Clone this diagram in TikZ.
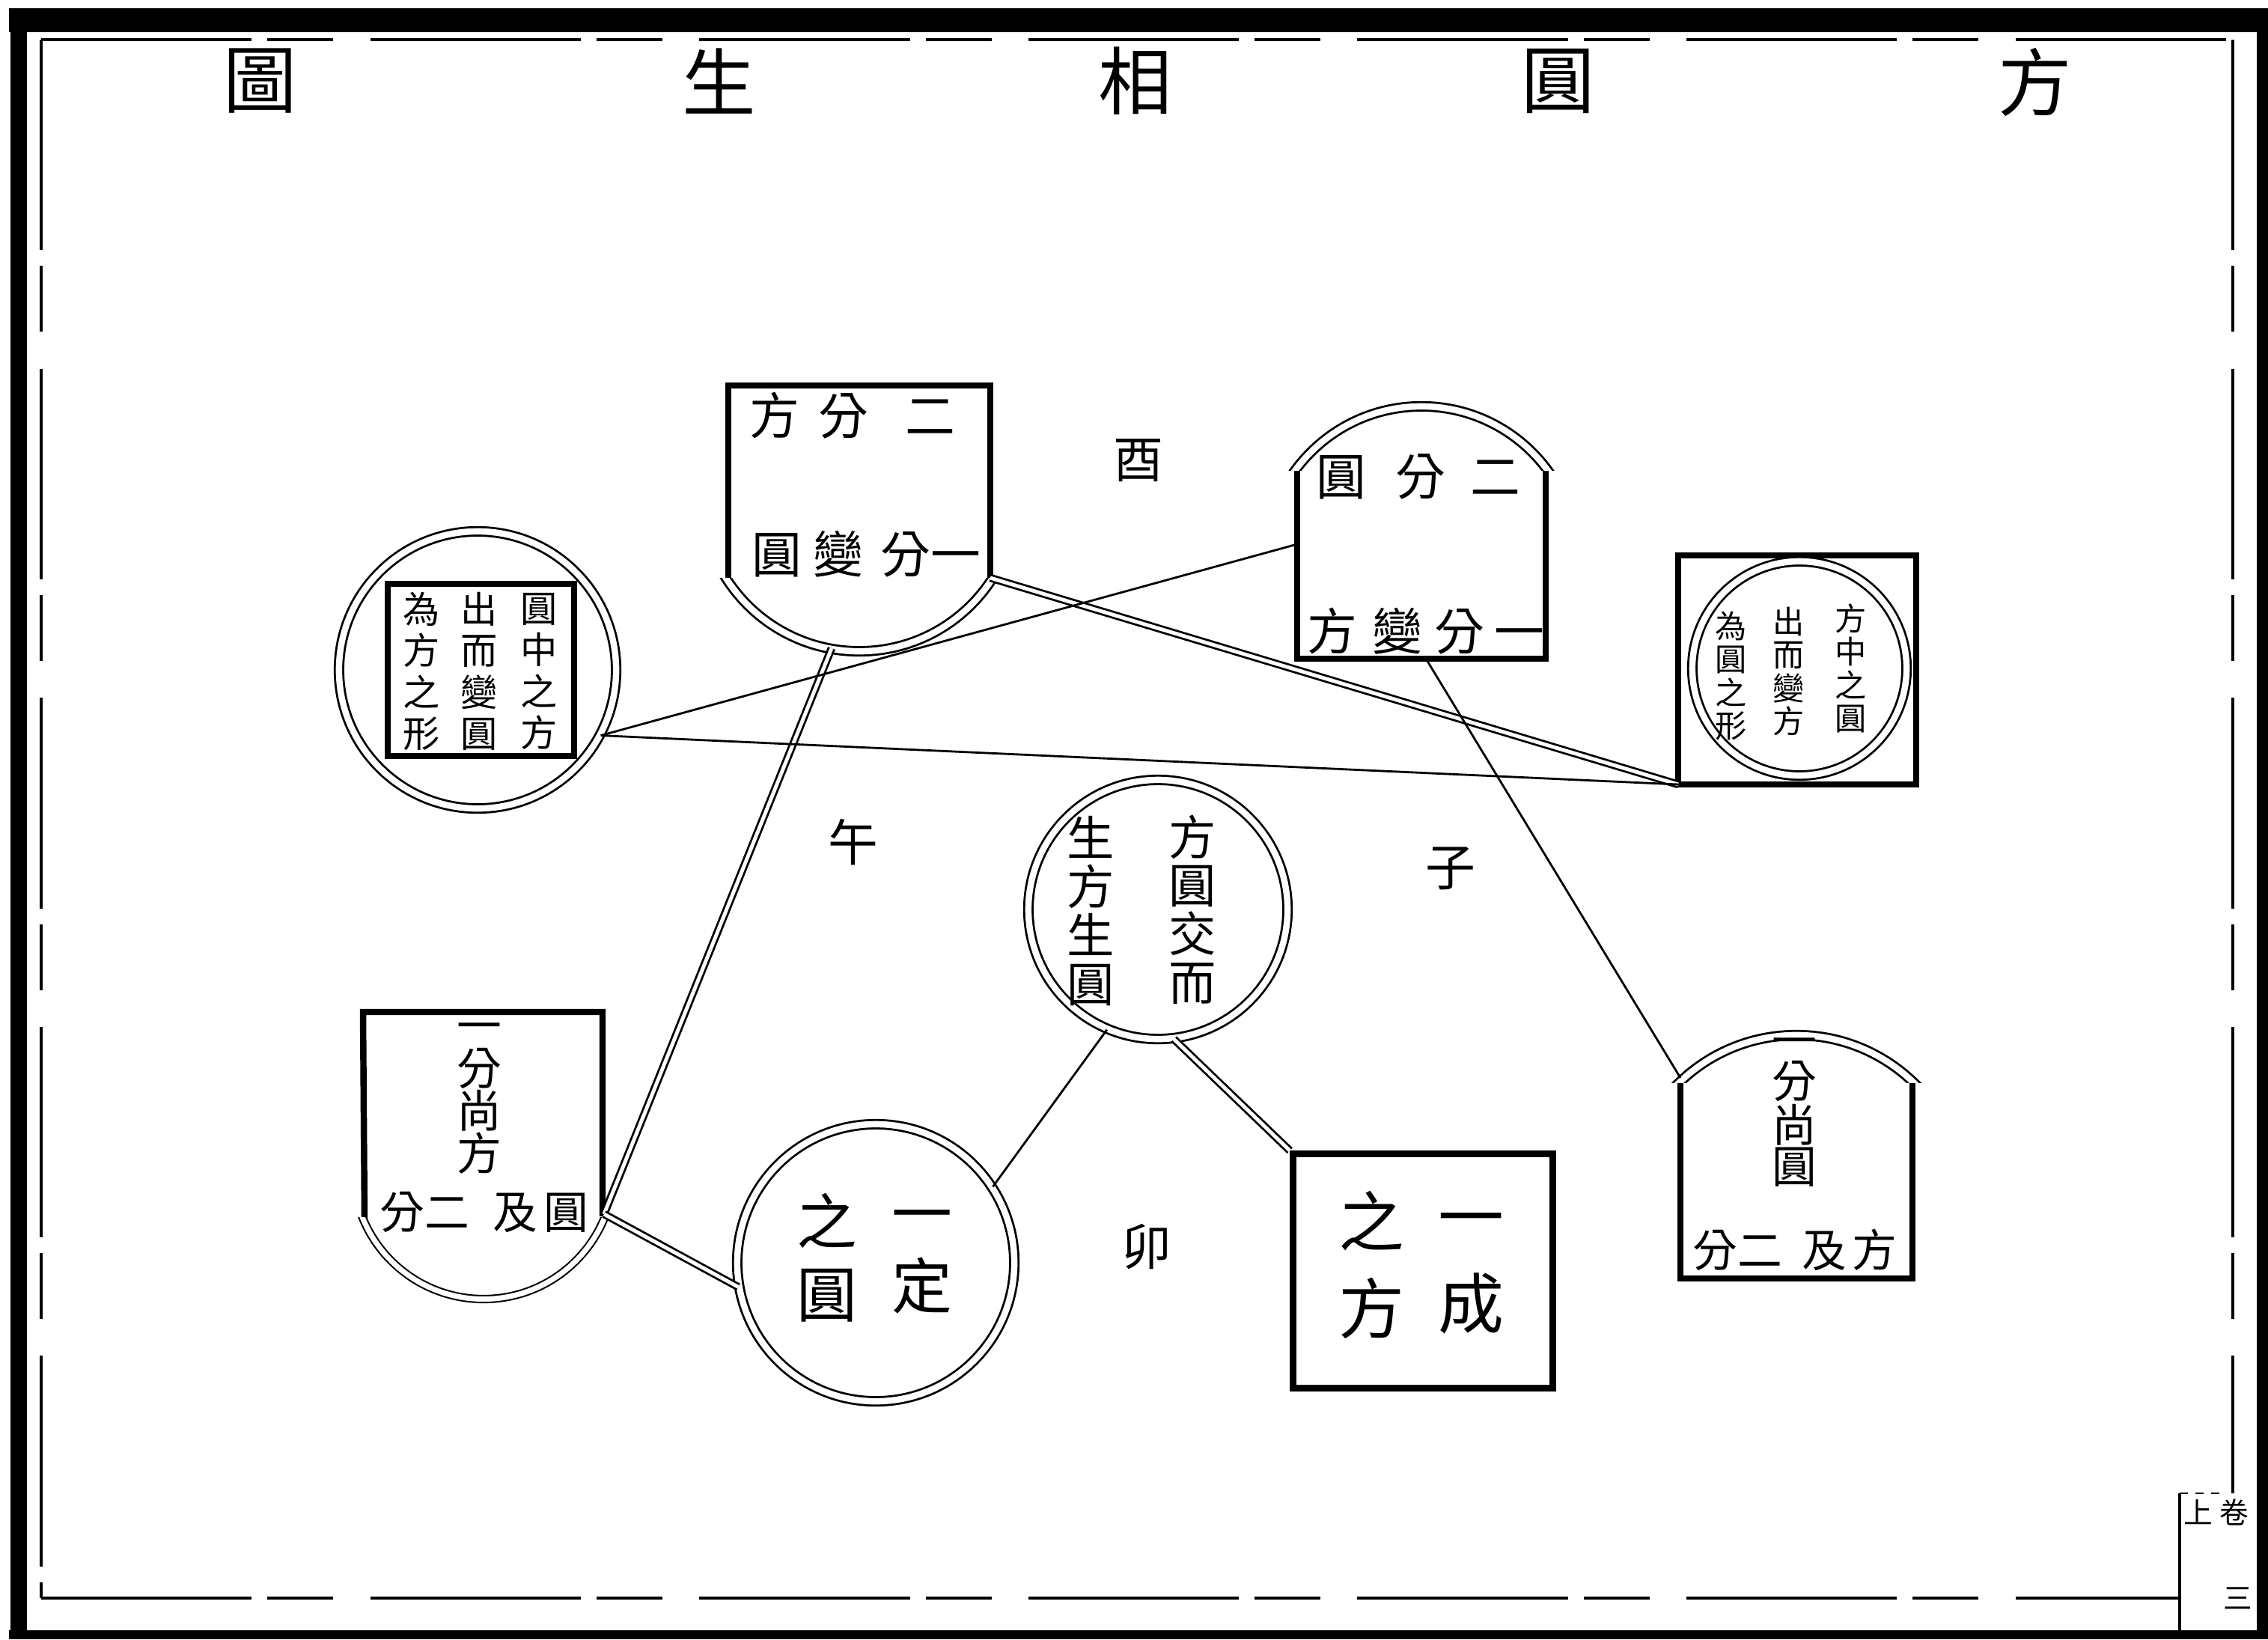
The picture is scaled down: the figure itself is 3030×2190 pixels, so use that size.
\documentclass[tikz,border=0pt]{standalone}
\usepackage{fontspec}
\newfontfamily\cjk{Noto Sans CJK TC}
\newcommand{\cjvp}{\vphantom{圓}}
\begin{document}
\begin{tikzpicture}[x=0.01cm,y=-0.01cm,
 thickbox/.style={line width=2.4pt,line join=miter},
 ring/.style={draw,circle,double,line width=0.8pt,double distance=2.4pt,inner sep=0pt},
 arcd/.style={double,line width=0.8pt,double distance=2.4pt},
 dbl/.style={double,line width=0.8pt,double distance=1.4pt},
 link/.style={line width=0.8pt},
 cj/.style={font=\cjk\fontsize{#1}{#1}\selectfont,inner sep=0pt},
 cjcol/.style n args={2}{font=\cjk\fontsize{#1}{#2}\selectfont,align=center,inner sep=0pt},
 frameline/.style={line width=0.9pt,dash pattern=on 80pt off 6pt on 25pt off 14pt}]
\useasboundingbox (0,0) rectangle (3030,2190);
\fill[white] (0,0) rectangle (3030,2190);

% outer frame
\draw[line width=9pt] (12,27) -- (3030,27);
\draw[line width=6pt] (25,12) -- (25,2190);
\draw[line width=4.3pt] (3023,12) -- (3023,2190);
\draw[line width=3.5pt] (12,2184) -- (3030,2184);
% inner frame
\draw[frameline] (55,53) -- (2983,53);
\draw[frameline] (55,53) -- (55,2135);
\draw[frameline] (2983,53) -- (2983,1995);
\draw[frameline] (55,2135) -- (2912,2135);
\draw[line width=1pt] (2912,1995) -- (2912,2184);
\draw[line width=0.8pt,dashed] (2912,1995) -- (2965,1995);
\node[cj=11] (m1) at (2937,2020) {上};
\node[cj=11] (m2) at (2985,2020) {卷};
\node[cj=11] (m3) at (2990,2135) {三};

% title
\node[cj=28] (t1) at (348,108) {圖};
\node[cj=28] (t2) at (961,108) {生};
\node[cj=28] (t3) at (1517,108) {相};
\node[cj=28] (t4) at (2082,108) {圓};
\node[cj=28] (t5) at (2719,110) {方};

% branch characters
\node[cj=19] (you) at (1521,615) {酉};
\node[cj=19] (wu) at (1140,1125) {午};
\node[cj=19] (zi) at (1938,1160) {子};
\node[cj=19] (mao) at (1532,1666) {卯};

% shield S1 (square top, round bottom)
\coordinate (s1bl) at (973,777);
\coordinate (s1tl) at (973,515);
\coordinate (s1tr) at (1323,515);
\coordinate (s1br) at (1323,772);
\coordinate (s1arc) at (1111,866);
\draw[thickbox] (s1bl) -- (s1tl) -- (s1tr) -- (s1br);
\begin{scope}
\clip (900,772) rectangle (1400,960);
\draw[arcd] (1148,659) circle[radius=2.11cm];
\end{scope}
\node[cj=19] (s1t) at (1139,555) {方\hspace{7pt}分\hspace{14pt}二};
\node[cj=19] (s1b) at (1157,740) {圓\hspace{4.5pt}變\hspace{6.5pt}分一};

% S2 (round top, square bottom)
\coordinate (s2l) at (1733,727);
\coordinate (s2b) at (1905,880);
\draw[thickbox] (1733,628) -- (1733,880) -- (2065,880) -- (2065,628);
\begin{scope}
\clip (1650,480) rectangle (2150,628);
\draw[arcd] (1899,752) circle[radius=2.09cm];
\end{scope}
\node[cj=19] (s2t) at (1895,637) {圓\hspace{11pt}分\hspace{9.4pt}二};
\node[cj=19] (s2bt) at (1905,843) {方\hspace{5.7pt}變\hspace{4.5pt}分\hspace{3.7pt}一};

% left circle with square
\node[ring,minimum size=3.7cm] (L) at (638,895) {};
\draw[thickbox] (518,780) rectangle (767,1010);
\node[cjcol={14}{15.8}] (L1) at (720,897) {圓\\中\\之\\方};
\node[cjcol={14}{15.8}] (L2) at (640,897) {出\\而\\變\\圓};
\node[cjcol={14}{15.8}] (L3) at (563,897) {為\\方\\之\\形};

% right square with circle
\coordinate (Rbl) at (2242,1048);
\draw[thickbox] (2242,742) rectangle (2560,1048);
\node[ring,minimum size=2.86cm] (R) at (2404,893) {};
\node[cjcol={12}{12.6}] (R1) at (2473,893) {方\\中\\之\\圓};
\node[cjcol={12}{12.6}] (R2) at (2390,897) {出\\而\\變\\方};
\node[cjcol={12}{12.6}] (R3) at (2313,903) {為\\圓\\之\\形};

% centre circle
\node[ring,minimum size=3.46cm] (C) at (1547,1215) {};
\node[cjcol={18}{18.4}] (C1) at (1593,1215) {方\\圓\\交\\而};
\node[cjcol={18}{18.4}] (C2) at (1457,1217) {生\\方\\生\\圓};

% bottom-left box (square top, round bottom)
\coordinate (blr) at (807,1622);
\draw[thickbox] (487,1630) -- (485,1352) -- (805,1352) -- (805,1625);
\begin{scope}
\clip (400,1626) rectangle (900,1800);
\draw[double,line width=0.6pt,double distance=2pt] (646,1561) circle[radius=1.744cm];
\end{scope}
\node[cjcol={17}{16.2}] (bl1) at (640,1457) {\cjvp{}一\\分\\尚\\方};
\node[cj=17] (bl2) at (647,1620) {分二\hspace{9pt}及\hspace{2.5pt}圓};

% bottom-right box (round top, square bottom)
\coordinate (brl) at (2245,1440);
\draw[thickbox] (2245,1443) -- (2245,1708) -- (2555,1708) -- (2555,1447);
\begin{scope}
\clip (2150,1300) rectangle (2650,1446);
\draw[arcd] (2400,1608) circle[radius=2.25cm];
\end{scope}
\node[cjcol={17}{15.6}] (br1) at (2397,1475) {\cjvp{}一\\分\\尚\\圓};
\node[cj=17] (br2) at (2398,1670) {分二\hspace{7.7pt}及\hspace{2pt}方};

% bottom circle
\node[ring,minimum size=3.7cm] (B) at (1170,1687) {};
\node[cjcol={23}{27.6}] (B1) at (1232,1671) {\cjvp{}一\\定};
\node[cjcol={23}{27.6}] (B2) at (1105,1680) {之\\圓};

% square
\node[draw,thickbox,minimum width=3.47cm,minimum height=3.13cm,inner sep=0pt] (Q) at (1901,1698) {};
\node[cjcol={25}{33}] (Q1) at (1965,1685) {\cjvp{}一\\成};
\node[cjcol={25}{33}] (Q2) at (1832,1690) {之\\方};

% connectors
\draw[dbl] (s1br) -- (Rbl);
\draw[dbl] (s1arc) -- (blr);
\draw[dbl] (blr) -- (B.190);
\draw[link] (L.-28) -- (s2l);
\draw[link] (L.-28) -- (Rbl);
\draw[link] (s2b) -- (brl);
\draw[link] (C.-113) -- (B.33);
\draw[dbl] (C.-83) -- (Q.north west);
\end{tikzpicture}
\end{document}
